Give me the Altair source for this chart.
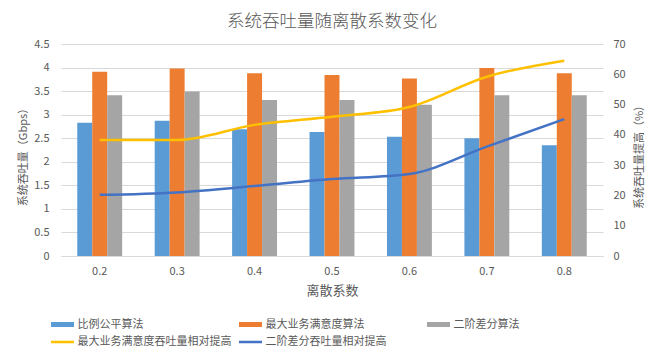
import altair as alt
import pandas as pd

# ---- data ----
x_labels = ["0.2", "0.3", "0.4", "0.5", "0.6", "0.7", "0.8"]
bar_series = ["比例公平算法", "最大业务满意度算法", "二阶差分算法"]
line_series = ["最大业务满意度吞吐量相对提高", "二阶差分吞吐量相对提高"]

proportional_fair = [2.83, 2.87, 2.69, 2.63, 2.53, 2.50, 2.35]
max_satisfaction = [3.91, 3.98, 3.88, 3.84, 3.77, 3.99, 3.88]
second_order_diff = [3.41, 3.49, 3.31, 3.31, 3.21, 3.41, 3.41]

gain_max_satisfaction = [38.3, 38.3, 43.3, 46.0, 49.2, 59.2, 64.5]
gain_second_diff = [20.2, 21.0, 23.1, 25.4, 27.1, 36.1, 45.2]

left_ticks = [0, 0.5, 1, 1.5, 2, 2.5, 3, 3.5, 4, 4.5]
right_ticks = [0, 10, 20, 30, 40, 50, 60, 70]

# ---- styling ----
bar_colors = ["#5B9BD5", "#ED7D31", "#A5A5A5"]
line_colors = ["#FFC000", "#4472C4"]
TEXT = "#595959"
GRID = "#D9D9D9"
FONT = "Noto Sans CJK SC"

bar_shape = "M-1.28,-0.28H1.28V0.28H-1.28Z"
line_shape = "M-1.28,-0.14H1.28V0.14H-1.28Z"

bars_df = pd.DataFrame({
    "x": x_labels * 3,
    "series": [bar_series[0]] * 7 + [bar_series[1]] * 7 + [bar_series[2]] * 7,
    "value": proportional_fair + max_satisfaction + second_order_diff,
})
lines_df = pd.DataFrame({
    "x": x_labels * 2,
    "series": [line_series[0]] * 7 + [line_series[1]] * 7,
    "pct": gain_max_satisfaction + gain_second_diff,
})
all_series = bar_series + line_series
legend_df = pd.DataFrame({"series": all_series})

x_enc = alt.X(
    "x:N", sort=x_labels,
    scale=alt.Scale(paddingInner=0.42, paddingOuter=0.21),
    axis=alt.Axis(
        title="离散系数", labelAngle=0, domainColor=GRID, domainWidth=1,
        ticks=False, tickSize=0, labelPadding=9, grid=False,
        titleY=34, titleBaseline="middle", titleFontSize=13,
    ),
)

bars = alt.Chart(bars_df).mark_bar().encode(
    x=x_enc,
    xOffset=alt.XOffset("series:N", sort=bar_series,
                        scale=alt.Scale(domain=bar_series, paddingInner=0, paddingOuter=0)),
    y=alt.Y(
        "value:Q",
        scale=alt.Scale(domain=[0, 4.5], nice=False),
        axis=alt.Axis(
            values=left_ticks, format="~g", title="系统吞吐量（Gbps）",
            domain=False, ticks=False, tickSize=0, labelPadding=12,
            grid=True, gridColor=GRID, gridWidth=1,
            titleAngle=270, titleX=-38, titleY=110,
            titleAlign="center", titleBaseline="middle",
        ),
    ),
    fill=alt.Fill("series:N", scale=alt.Scale(domain=bar_series, range=bar_colors), legend=None),
)

lines = alt.Chart(lines_df).mark_line(interpolate="monotone", strokeWidth=2.5).encode(
    x=x_enc,
    y=alt.Y(
        "pct:Q",
        scale=alt.Scale(domain=[0, 70], nice=False),
        axis=alt.Axis(
            orient="right", values=right_ticks, title="系统吞吐量提高（%）",
            domain=False, ticks=False, tickSize=0, labelPadding=10, grid=False,
            titleAngle=270, titleX=36, titleY=110,
            titleAlign="center", titleBaseline="middle",
        ),
    ),
    stroke=alt.Stroke("series:N", scale=alt.Scale(domain=line_series, range=line_colors), legend=None),
)

leg = alt.Legend(
    title=None, orient="none", legendX=-7.5, legendY=271.5,
    direction="horizontal", columns=3, gridAlign="all",
    columnPadding=7, rowPadding=3.5, padding=0,
    symbolSize=324, symbolStrokeWidth=0, symbolOpacity=1,
    labelOffset=6, labelFontSize=11, labelColor=TEXT, labelLimit=400,
)

legend_layer = alt.Chart(legend_df).mark_point(filled=True, opacity=0).encode(
    x=alt.value(0),
    y=alt.value(0),
    color=alt.Color("series:N", scale=alt.Scale(domain=all_series, range=bar_colors + line_colors), legend=leg),
    shape=alt.Shape("series:N",
                    scale=alt.Scale(domain=all_series,
                                    range=[bar_shape, bar_shape, bar_shape, line_shape, line_shape]),
                    legend=leg),
)

chart = alt.layer(bars, lines, legend_layer).resolve_scale(
    y="independent"
).properties(
    width=542,
    height=212,
    autosize=alt.AutoSizeParams(type="none"),
    padding={"left": 53, "top": 36, "right": 50, "bottom": 91},
    title=alt.Title("系统吞吐量随离散系数变化", fontSize=17.5, color=TEXT,
                    fontWeight=300, anchor="middle", offset=8),
).configure(
    font=FONT,
).configure_view(
    stroke=None,
).configure_axis(
    labelColor=TEXT, titleColor=TEXT, labelFontSize=11, titleFontSize=11,
    titleFontWeight="normal", labelFont=FONT, titleFont=FONT,
)

chart.save("out.html", embed_options={"renderer": "svg", "actions": False})
